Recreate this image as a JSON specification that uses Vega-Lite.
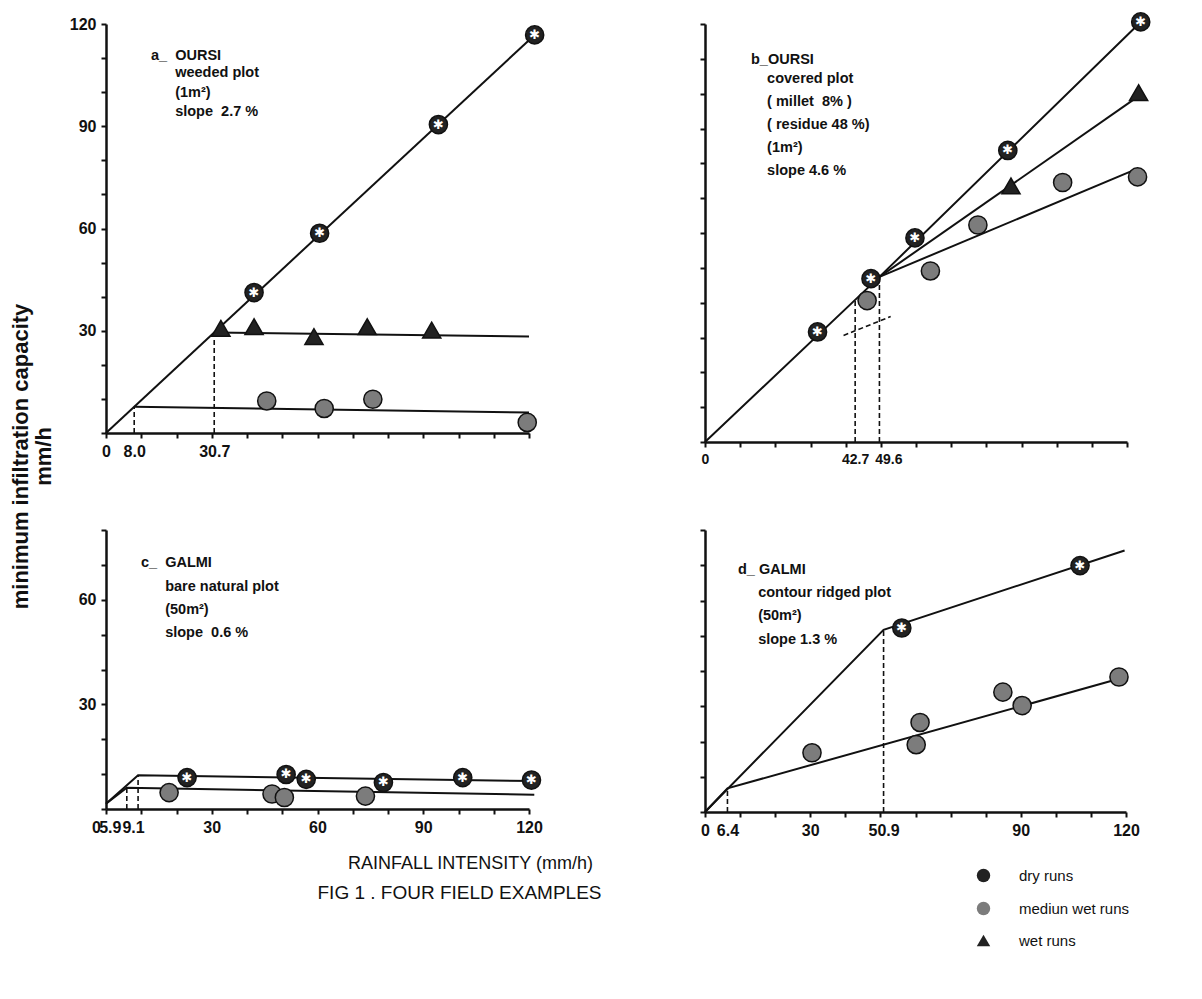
{
  "$schema": "https://vega.github.io/schema/vega-lite/v6.json",
  "background": "white",
  "padding": {"left": 9, "top": 9, "right": 0, "bottom": 0},
  "datasets": {
    "a_pts": [
      {"run": "dry runs", "x": 42.0, "y": 41.2},
      {"run": "dry runs", "x": 60.6, "y": 58.6},
      {"run": "dry runs", "x": 94.3, "y": 90.5},
      {"run": "dry runs", "x": 121.6, "y": 116.8},
      {"run": "wet runs", "x": 32.6, "y": 30.7},
      {"run": "wet runs", "x": 42.0, "y": 31.2},
      {"run": "wet runs", "x": 59.0, "y": 28.3},
      {"run": "wet runs", "x": 74.1, "y": 31.2},
      {"run": "wet runs", "x": 92.4, "y": 30.2},
      {"run": "mediun wet runs", "x": 45.6, "y": 9.4},
      {"run": "mediun wet runs", "x": 61.9, "y": 7.2},
      {"run": "mediun wet runs", "x": 75.7, "y": 9.9},
      {"run": "mediun wet runs", "x": 119.5, "y": 3.1}
    ],
    "a_fit": [
      {"seg": "dry", "x": 0, "y": 0}, {"seg": "dry", "x": 121.6, "y": 116.8},
      {"seg": "wet", "x": 30.7, "y": 29.5}, {"seg": "wet", "x": 120, "y": 28.3},
      {"seg": "medium", "x": 8.0, "y": 7.7}, {"seg": "medium", "x": 120, "y": 6.0}
    ],
    "a_guide": [
      {"seg": "g1", "x": 8.0, "y": 0}, {"seg": "g1", "x": 8.0, "y": 7.7},
      {"seg": "g2", "x": 30.7, "y": 0}, {"seg": "g2", "x": 30.7, "y": 29.5}
    ],
    "b_pts": [
      {"run": "dry runs", "x": 32.0, "y": 31.6},
      {"run": "dry runs", "x": 47.2, "y": 46.9},
      {"run": "dry runs", "x": 59.7, "y": 58.6},
      {"run": "dry runs", "x": 86.1, "y": 83.7},
      {"run": "dry runs", "x": 123.9, "y": 120.6},
      {"run": "wet runs", "x": 87.0, "y": 73.5},
      {"run": "wet runs", "x": 123.3, "y": 100.3},
      {"run": "mediun wet runs", "x": 46.1, "y": 40.6},
      {"run": "mediun wet runs", "x": 64.1, "y": 49.1},
      {"run": "mediun wet runs", "x": 77.6, "y": 62.3},
      {"run": "mediun wet runs", "x": 101.7, "y": 74.5},
      {"run": "mediun wet runs", "x": 123.0, "y": 76.1}
    ],
    "b_fit": [
      {"seg": "dry", "x": 0, "y": 0}, {"seg": "dry", "x": 49.6, "y": 47.4}, {"seg": "dry", "x": 123.9, "y": 120.6},
      {"seg": "wet", "x": 49.6, "y": 47.4}, {"seg": "wet", "x": 123.3, "y": 99.3},
      {"seg": "medium", "x": 49.6, "y": 47.4}, {"seg": "medium", "x": 122.8, "y": 78.4}
    ],
    "b_guide": [
      {"seg": "g1", "x": 42.7, "y": 0}, {"seg": "g1", "x": 42.7, "y": 41.0},
      {"seg": "g2", "x": 49.6, "y": 0}, {"seg": "g2", "x": 49.6, "y": 47.4},
      {"seg": "g3", "x": 39.4, "y": 30.6}, {"seg": "g3", "x": 52.8, "y": 36.0}
    ],
    "c_pts": [
      {"run": "dry runs", "x": 23.0, "y": 9.0},
      {"run": "dry runs", "x": 51.1, "y": 9.9},
      {"run": "dry runs", "x": 56.8, "y": 8.5},
      {"run": "dry runs", "x": 78.7, "y": 7.6},
      {"run": "dry runs", "x": 101.2, "y": 9.0},
      {"run": "dry runs", "x": 120.7, "y": 8.3},
      {"run": "mediun wet runs", "x": 17.9, "y": 4.7},
      {"run": "mediun wet runs", "x": 47.1, "y": 4.3},
      {"run": "mediun wet runs", "x": 50.6, "y": 3.3},
      {"run": "mediun wet runs", "x": 73.6, "y": 3.7}
    ],
    "c_fit": [
      {"seg": "upper", "x": 0, "y": 1.5}, {"seg": "upper", "x": 9.1, "y": 9.7}, {"seg": "upper", "x": 121.5, "y": 8.0},
      {"seg": "lower", "x": 0, "y": 1.5}, {"seg": "lower", "x": 5.9, "y": 6.1}, {"seg": "lower", "x": 121.5, "y": 4.1}
    ],
    "c_guide": [
      {"seg": "g1", "x": 5.9, "y": 0}, {"seg": "g1", "x": 5.9, "y": 6.1},
      {"seg": "g2", "x": 9.1, "y": 0}, {"seg": "g2", "x": 9.1, "y": 9.7}
    ],
    "d_pts": [
      {"run": "dry runs", "x": 56.1, "y": 52.2},
      {"run": "dry runs", "x": 106.9, "y": 69.9},
      {"run": "mediun wet runs", "x": 30.5, "y": 16.8},
      {"run": "mediun wet runs", "x": 61.3, "y": 25.4},
      {"run": "mediun wet runs", "x": 60.2, "y": 19.1},
      {"run": "mediun wet runs", "x": 84.9, "y": 34.0},
      {"run": "mediun wet runs", "x": 90.4, "y": 30.2},
      {"run": "mediun wet runs", "x": 118.0, "y": 38.3}
    ],
    "d_fit": [
      {"seg": "upper", "x": 0, "y": 0}, {"seg": "upper", "x": 50.9, "y": 51.7}, {"seg": "upper", "x": 119.6, "y": 74.2},
      {"seg": "lower", "x": 0, "y": 0}, {"seg": "lower", "x": 6.4, "y": 6.7}, {"seg": "lower", "x": 118.0, "y": 37.8}
    ],
    "d_guide": [
      {"seg": "g1", "x": 6.4, "y": 0}, {"seg": "g1", "x": 6.4, "y": 6.7},
      {"seg": "g2", "x": 50.9, "y": 0}, {"seg": "g2", "x": 50.9, "y": 51.7}
    ]
  },
  "concat": [
    {
      "width": 423, "height": 409,
      "title": {"text": "a_\u00a0\u00a0OURSI", "subtitle": ["\u200b\u00a0\u00a0\u00a0\u00a0\u00a0\u00a0weeded plot", "\u200b\u00a0\u00a0\u00a0\u00a0\u00a0\u00a0(1m²)", "\u200b\u00a0\u00a0\u00a0\u00a0\u00a0\u00a0slope\u00a0\u00a02.7 %"],
        "orient": "top", "anchor": "start", "frame": "group", "align": "left", "dx": 45, "offset": -103.5, "subtitlePadding": 2.5, "subtitleLineHeight": 19.5},
      "encoding": {
        "x": {"field": "x", "type": "quantitative", "scale": {"domain": [0, 120], "nice": false, "zero": false},
          "axis": {"title": null, "values": [0, 8, 10, 20, 30, 30.7, 40, 50, 60, 70, 80, 90, 100, 110, 120],
            "labelExpr": "datum.value == 0 ? '0' : datum.value == 8 ? '8.0' : datum.value == 30.7 ? '30.7' : ''",
            "tickOpacity": {"condition": {"test": "datum.value == 8 || datum.value == 30.7", "value": 0}, "value": 1}}},
        "y": {"field": "y", "type": "quantitative", "scale": {"domain": [0, 120], "nice": false, "zero": false},
          "axis": {"values": [0, 10, 20, 30, 40, 50, 60, 70, 80, 90, 100, 110, 120],
            "labelExpr": "datum.value > 0 && datum.value % 30 == 0 ? datum.label : ''",
            "title": ["minimum infiltration capacity", "mm/h"], "titleAngle": -90, "titleX": -74, "titleY": 432,
            "titleAlign": "center", "titleBaseline": "bottom", "titleFontSize": 22, "titleFontWeight": "bold", "titleLineHeight": 23}}
      },
      "layer": [
        {"data": {"name": "a_fit"}, "mark": {"type": "line", "color": "#111", "strokeWidth": 2}, "encoding": {"detail": {"field": "seg"}}},
        {"data": {"name": "a_guide"}, "mark": {"type": "line", "color": "#111", "strokeWidth": 1.6, "strokeDash": [5, 3]}, "encoding": {"detail": {"field": "seg"}}},
        {"data": {"name": "a_pts"}, "mark": {"type": "point", "filled": true, "size": 330, "stroke": "#111", "strokeWidth": 1.5, "opacity": 1},
          "encoding": {
            "shape": {"field": "run", "type": "nominal", "scale": {"domain": ["dry runs", "mediun wet runs", "wet runs"], "range": ["circle", "circle", "triangle-up"]}, "legend": {"orient": "none", "legendX": 870, "legendY": 844, "title": null}},
            "fill": {"field": "run", "type": "nominal", "scale": {"domain": ["dry runs", "mediun wet runs", "wet runs"], "range": ["#222222", "#7c7c7c", "#222222"]}, "legend": {"orient": "none", "legendX": 870, "legendY": 844, "title": null}}
          }},
        {"data": {"name": "a_pts"}, "transform": [{"filter": "datum.run == 'dry runs'"}],
          "mark": {"type": "text", "text": "✱", "color": "white", "fontSize": 13, "font": "DejaVu Sans", "align": "center", "baseline": "middle"}}
      ]
    },
    {
      "width": 422, "height": 418,
      "title": {"text": "b_OURSI", "subtitle": ["\u200b\u00a0\u00a0\u00a0\u00a0covered plot", "\u200b\u00a0\u00a0\u00a0\u00a0( millet\u00a0\u00a08% )", "\u200b\u00a0\u00a0\u00a0\u00a0( residue 48 %)", "\u200b\u00a0\u00a0\u00a0\u00a0(1m²)", "\u200b\u00a0\u00a0\u00a0\u00a0slope 4.6 %"],
        "orient": "top", "anchor": "start", "frame": "group", "align": "left", "dx": 46, "offset": -168.5, "subtitlePadding": 4.5, "subtitleLineHeight": 23},
      "encoding": {
        "x": {"field": "x", "type": "quantitative", "scale": {"domain": [0, 120], "nice": false, "zero": false},
          "axis": {"title": null, "values": [0, 10, 20, 30, 40, 42.7, 49.6, 50, 60, 70, 80, 90, 100, 110, 120],
            "labelExpr": "datum.value == 0 ? '0' : datum.value == 42.7 ? '42.7' : datum.value == 49.6 ? '49.6' : ''",
            "labelFontSize": 14,
            "labelOffset": {"condition": {"test": "datum.value == 49.6", "value": 9}, "value": 0},
            "tickOpacity": {"condition": {"test": "datum.value == 42.7 || datum.value == 49.6", "value": 0}, "value": 1}}},
        "y": {"field": "y", "type": "quantitative", "scale": {"domain": [0, 120], "nice": false, "zero": false},
          "axis": {"title": null, "labels": false, "values": [0, 10, 20, 30, 40, 50, 60, 70, 80, 90, 100, 110, 120]}}
      },
      "layer": [
        {"data": {"name": "b_fit"}, "mark": {"type": "line", "color": "#111", "strokeWidth": 2}, "encoding": {"detail": {"field": "seg"}}},
        {"data": {"name": "b_guide"}, "mark": {"type": "line", "color": "#111", "strokeWidth": 1.6, "strokeDash": [5, 3]}, "encoding": {"detail": {"field": "seg"}}},
        {"data": {"name": "b_pts"}, "mark": {"type": "point", "filled": true, "size": 330, "stroke": "#111", "strokeWidth": 1.5, "opacity": 1},
          "encoding": {
            "shape": {"field": "run", "type": "nominal", "scale": {"domain": ["dry runs", "mediun wet runs", "wet runs"], "range": ["circle", "circle", "triangle-up"]}, "legend": {"orient": "none", "legendX": 870, "legendY": 844, "title": null}},
            "fill": {"field": "run", "type": "nominal", "scale": {"domain": ["dry runs", "mediun wet runs", "wet runs"], "range": ["#222222", "#7c7c7c", "#222222"]}, "legend": {"orient": "none", "legendX": 870, "legendY": 844, "title": null}}
          }},
        {"data": {"name": "b_pts"}, "transform": [{"filter": "datum.run == 'dry runs'"}],
          "mark": {"type": "text", "text": "✱", "color": "white", "fontSize": 13, "font": "DejaVu Sans", "align": "center", "baseline": "middle"}}
      ]
    },
    {
      "width": 423, "height": 279,
      "title": {"text": "c_\u00a0\u00a0GALMI", "subtitle": ["\u200b\u00a0\u00a0\u00a0\u00a0\u00a0\u00a0bare natural plot", "\u200b\u00a0\u00a0\u00a0\u00a0\u00a0\u00a0(50m²)", "\u200b\u00a0\u00a0\u00a0\u00a0\u00a0\u00a0slope\u00a0\u00a00.6 %"],
        "orient": "top", "anchor": "start", "frame": "group", "align": "left", "dx": 35, "offset": -118.75, "subtitlePadding": 9.5, "subtitleLineHeight": 23},
      "encoding": {
        "x": {"field": "x", "type": "quantitative", "scale": {"domain": [0, 120], "nice": false, "zero": false},
          "axis": {"values": [0, 5.9, 9.1, 10, 20, 30, 40, 50, 60, 70, 80, 90, 100, 110, 120],
            "labelExpr": "datum.value == 5.9 ? '5.9' : datum.value == 9.1 ? '9.1' : datum.value % 30 == 0 ? datum.label : ''",
            "labelOffset": {"condition": [{"test": "datum.value == 0", "value": -10}, {"test": "datum.value == 5.9", "value": -17}, {"test": "datum.value == 9.1", "value": -5}], "value": 0},
            "tickOpacity": {"condition": {"test": "datum.value == 5.9 || datum.value == 9.1", "value": 0}, "value": 1},
            "title": "RAINFALL INTENSITY (mm/h)", "titleX": 364, "titleY": 54, "titleAlign": "center", "titleBaseline": "middle",
            "titleFont": "Liberation Sans", "titleFontSize": 18, "titleFontWeight": "normal"}},
        "y": {"field": "y", "type": "quantitative", "scale": {"domain": [0, 80], "nice": false, "zero": false},
          "axis": {"title": null, "values": [0, 10, 20, 30, 40, 50, 60, 70, 80],
            "labelExpr": "datum.value > 0 && datum.value % 30 == 0 ? datum.label : ''"}}
      },
      "layer": [
        {"data": {"name": "c_fit"}, "mark": {"type": "line", "color": "#111", "strokeWidth": 2}, "encoding": {"detail": {"field": "seg"}}},
        {"data": {"name": "c_guide"}, "mark": {"type": "line", "color": "#111", "strokeWidth": 1.6, "strokeDash": [5, 3]}, "encoding": {"detail": {"field": "seg"}}},
        {"data": {"name": "c_pts"}, "mark": {"type": "point", "filled": true, "size": 330, "stroke": "#111", "strokeWidth": 1.5, "opacity": 1},
          "encoding": {
            "shape": {"field": "run", "type": "nominal", "scale": {"domain": ["dry runs", "mediun wet runs", "wet runs"], "range": ["circle", "circle", "triangle-up"]}, "legend": {"orient": "none", "legendX": 870, "legendY": 844, "title": null}},
            "fill": {"field": "run", "type": "nominal", "scale": {"domain": ["dry runs", "mediun wet runs", "wet runs"], "range": ["#222222", "#7c7c7c", "#222222"]}, "legend": {"orient": "none", "legendX": 870, "legendY": 844, "title": null}}
          }},
        {"data": {"name": "c_pts"}, "transform": [{"filter": "datum.run == 'dry runs'"}],
          "mark": {"type": "text", "text": "✱", "color": "white", "fontSize": 13, "font": "DejaVu Sans", "align": "center", "baseline": "middle"}}
      ]
    },
    {
      "width": 421, "height": 282,
      "title": {"text": "d_\u00a0GALMI", "subtitle": ["\u200b\u00a0\u00a0\u00a0\u00a0\u00a0contour ridged plot", "\u200b\u00a0\u00a0\u00a0\u00a0\u00a0(50m²)", "\u200b\u00a0\u00a0\u00a0\u00a0\u00a0slope 1.3 %"],
        "orient": "top", "anchor": "start", "frame": "group", "align": "left", "dx": 33, "offset": -118.25, "subtitlePadding": 8.5, "subtitleLineHeight": 23.5},
      "encoding": {
        "x": {"field": "x", "type": "quantitative", "scale": {"domain": [0, 120], "nice": false, "zero": false},
          "axis": {"values": [0, 6.4, 10, 20, 30, 40, 50, 50.9, 60, 70, 80, 90, 100, 110, 120],
            "labelExpr": "datum.value == 6.4 ? '6.4' : datum.value == 50.9 ? '50.9' : (datum.value == 0 || datum.value == 30 || datum.value == 90 || datum.value == 120) ? datum.label : ''",
            "tickOpacity": {"condition": {"test": "datum.value == 6.4 || datum.value == 50.9", "value": 0}, "value": 1},
            "title": "FIG 1 .  FOUR FIELD EXAMPLES", "titleX": -246, "titleY": 80, "titleAlign": "center", "titleBaseline": "middle",
            "titleFont": "Liberation Sans", "titleFontSize": 19, "titleFontWeight": "normal"}},
        "y": {"field": "y", "type": "quantitative", "scale": {"domain": [0, 80], "nice": false, "zero": false},
          "axis": {"title": null, "labels": false, "values": [0, 10, 20, 30, 40, 50, 60, 70, 80]}}
      },
      "layer": [
        {"data": {"name": "d_fit"}, "mark": {"type": "line", "color": "#111", "strokeWidth": 2}, "encoding": {"detail": {"field": "seg"}}},
        {"data": {"name": "d_guide"}, "mark": {"type": "line", "color": "#111", "strokeWidth": 1.6, "strokeDash": [5, 3]}, "encoding": {"detail": {"field": "seg"}}},
        {"data": {"name": "d_pts"}, "mark": {"type": "point", "filled": true, "size": 330, "stroke": "#111", "strokeWidth": 1.5, "opacity": 1},
          "encoding": {
            "shape": {"field": "run", "type": "nominal", "scale": {"domain": ["dry runs", "mediun wet runs", "wet runs"], "range": ["circle", "circle", "triangle-up"]}, "legend": {"orient": "none", "legendX": 870, "legendY": 844, "title": null}},
            "fill": {"field": "run", "type": "nominal", "scale": {"domain": ["dry runs", "mediun wet runs", "wet runs"], "range": ["#222222", "#7c7c7c", "#222222"]}, "legend": {"orient": "none", "legendX": 870, "legendY": 844, "title": null}}
          }},
        {"data": {"name": "d_pts"}, "transform": [{"filter": "datum.run == 'dry runs'"}],
          "mark": {"type": "text", "text": "✱", "color": "white", "fontSize": 13, "font": "DejaVu Sans", "align": "center", "baseline": "middle"}}
      ]
    }
  ],
  "columns": 2,
  "spacing": {"row": 88, "column": 176},
  "bounds": "flush",
  "config": {
    "font": "Liberation Sans",
    "view": {"stroke": null},
    "title": {"font": "Liberation Sans", "fontSize": 14.5, "fontWeight": "bold", "color": "#111",
      "subtitleFont": "Liberation Sans", "subtitleFontSize": 14.5, "subtitleFontWeight": "bold", "subtitleColor": "#111"},
    "axis": {"domainColor": "#111", "domainWidth": 2.5, "tickColor": "#111", "tickWidth": 2, "tickSize": 5,
      "labelFont": "Liberation Sans", "labelFontSize": 16, "labelFontWeight": "bold", "labelColor": "#111",
      "grid": false, "labelOverlap": false, "labelFlush": false, "labelBound": false, "labelPadding": 5,
      "titleColor": "#111", "titleFont": "Liberation Sans"},
    "legend": {"symbolSize": 180, "symbolStrokeColor": "#111", "symbolStrokeWidth": 1.2, "symbolOpacity": 1,
      "labelFont": "Liberation Sans", "labelFontSize": 15, "labelColor": "#111", "rowPadding": 14, "labelOffset": 28}
  }
}
